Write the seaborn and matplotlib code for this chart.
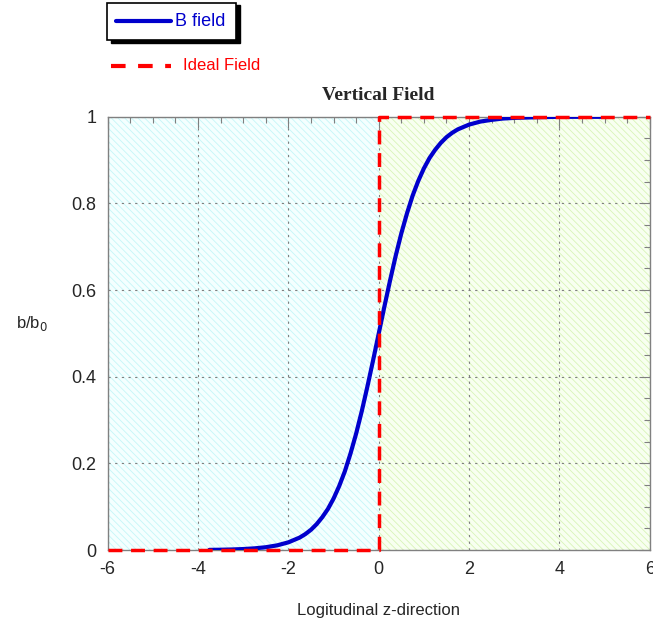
import matplotlib
matplotlib.use("Agg")
import matplotlib.pyplot as plt
import seaborn as sns
import pandas as pd
from matplotlib.ticker import MultipleLocator
from matplotlib.lines import Line2D
import matplotlib.patches as mpatches

# Data
z_vals = [-3.75, -3.5, -3.25, -3.0, -2.75, -2.5, -2.25, -2.0, -1.75, -1.625, -1.5, -1.375,
          -1.25, -1.125, -1.0, -0.875, -0.75, -0.625, -0.5, -0.375, -0.25, -0.125, 0.0,
          0.125, 0.25, 0.375, 0.5, 0.625, 0.75, 0.875, 1.0, 1.125, 1.25, 1.375, 1.5,
          1.625, 1.75, 2.0, 2.25, 2.5, 2.75, 3.0, 3.5, 4.0, 4.5, 5.0]
b_vals = [0.0006, 0.0009, 0.0015, 0.0025, 0.0041, 0.0067, 0.011, 0.018, 0.029, 0.037,
          0.047, 0.060, 0.076, 0.095, 0.119, 0.148, 0.182, 0.223, 0.269, 0.321, 0.378,
          0.438, 0.5, 0.562, 0.622, 0.679, 0.731, 0.777, 0.818, 0.852, 0.881, 0.905,
          0.924, 0.940, 0.953, 0.963, 0.971, 0.982, 0.989, 0.993, 0.996, 0.9975, 0.999,
          1.0, 1.0, 1.0]
ideal_z = [-6, 0, 0, 6]
ideal_b = [0, 0, 1, 1]
x_ticks = [-6, -4, -2, 0, 2, 4, 6]
y_ticks = [0, 0.2, 0.4, 0.6, 0.8, 1.0]
y_labels = ['0', '0.2', '0.4', '0.6', '0.8', '1']

sns.set_theme(style="white")
plt.rcParams['font.family'] = ['Liberation Sans', 'DejaVu Sans']
plt.rcParams['hatch.linewidth'] = 0.6

fig = plt.figure(figsize=(6.53, 6.28), dpi=100)
ax = fig.add_axes([0.165, 0.124, 0.830, 0.690])

# Shaded regions
ax.axvspan(-6, 0, facecolor='#f4ffff', edgecolor='#c4f6f8', hatch='\\\\\\\\\\', linewidth=0, zorder=0)
ax.axvspan(0, 6, facecolor='#f8fff0', edgecolor='#d8f4b8', hatch='\\\\\\\\\\', linewidth=0, zorder=0)

df = pd.DataFrame({'z': z_vals, 'b': b_vals})
sns.lineplot(data=df, x='z', y='b', ax=ax, color='#0000cc', linewidth=3, zorder=4)
for l in ax.lines:
    l.set_solid_joinstyle('round')
ax.plot(ideal_z, ideal_b, color='#ff0000', linestyle=(0, (4, 2.5)), linewidth=2.5,
        zorder=5, clip_on=False)

ax.set_xlim(-6, 6)
ax.set_ylim(0, 1)
ax.set_xticks(x_ticks)
ax.set_yticks(y_ticks)
ax.set_xticklabels([str(t) for t in x_ticks], fontsize=13)
ax.set_yticklabels(y_labels, fontsize=13)
ax.xaxis.set_minor_locator(MultipleLocator(0.5))
ax.yaxis.set_minor_locator(MultipleLocator(0.05))
ax.tick_params(which='both', direction='in', top=True, right=True, color='#808080')
ax.tick_params(which='major', length=8, width=0.8, pad=8)
ax.tick_params(which='minor', length=4, width=0.8)
ax.grid(True, which='major', color='#808080', linestyle=(0, (2, 4)), linewidth=0.8)
for s in ax.spines.values():
    s.set_color('#808080')
    s.set_linewidth(1)

ax.set_xlabel('Logitudinal z-direction', fontsize=12, labelpad=18)
ax.set_ylabel('b/b$_0$', fontsize=12, rotation=0, labelpad=28)
ax.yaxis.set_label_coords(-0.14, 0.5)
ax.set_title('Vertical Field', fontsize=14, fontweight='bold', family='Liberation Serif', pad=12)

# Legend box with shadow (outside the axes)
shadow = mpatches.Rectangle((0.170, 0.932), 0.198, 0.06, transform=fig.transFigure,
                            facecolor='black', edgecolor='black', zorder=1)
box = mpatches.Rectangle((0.164, 0.937), 0.198, 0.059, transform=fig.transFigure,
                         facecolor='white', edgecolor='black', linewidth=1.2, zorder=2)
fig.patches.extend([shadow, box])
fig.lines.append(Line2D([0.178, 0.262], [0.9665, 0.9665], transform=fig.transFigure,
                        color='#0000cc', linewidth=3, zorder=3))
fig.text(0.268, 0.9665, 'B field', color='#0000cc', fontsize=13, va='center', zorder=3)
fig.lines.append(Line2D([0.170, 0.262], [0.895, 0.895], transform=fig.transFigure,
                        color='#ff0000', linewidth=3, linestyle=(0, (3.5, 3)), zorder=3))
fig.text(0.280, 0.895, 'Ideal Field', color='#ff0000', fontsize=12, va='center', zorder=3)

fig.savefig('out.png', dpi=100)
